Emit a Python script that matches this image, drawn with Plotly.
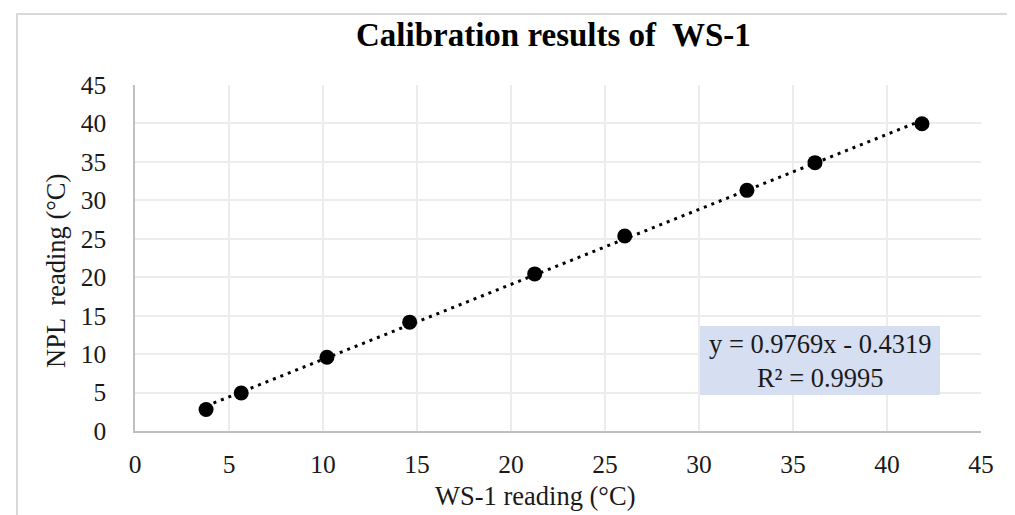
import numpy as np
import plotly.graph_objects as go

# Data
ws1_reading = [3.78, 5.65, 10.21, 14.61, 21.26, 26.05, 32.55, 36.17, 41.86]
npl_reading = [2.8, 4.95, 9.6, 14.16, 20.43, 25.36, 31.3, 34.9, 39.96]
tick_vals = [0, 5, 10, 15, 20, 25, 30, 35, 40, 45]
title_text = "<b>Calibration results of  WS-1</b>"
x_title = "WS-1 reading (°C)"
y_title = "NPL  reading (°C)"
eq_text = "y = 0.9769x - 0.4319<br>R² = 0.9995"

W, H = 1015, 515
L, R, T, B = 127, 42, 77, 92
pw, ph = W - L - R, H - T - B

def px(x):
    return (x - L) / pw

def py(y):
    return (H - B - y) / ph

coef = np.polyfit(ws1_reading, npl_reading, 1)
xt = np.array([min(ws1_reading), max(ws1_reading)])
yt = np.polyval(coef, xt)

FONT = "Liberation Serif, Times New Roman, serif"
TXT = "#1a1a1a"

fig = go.Figure()
fig.add_trace(go.Scatter(x=xt, y=yt, mode="lines",
                         line=dict(color="black", width=3, dash="3px,5px"),
                         hoverinfo="skip", showlegend=False))
fig.add_trace(go.Scatter(x=ws1_reading, y=npl_reading, mode="markers",
                         marker=dict(color="black", size=15),
                         showlegend=False))

axis_common = dict(range=[0, 45], tickvals=tick_vals, showgrid=True,
                   gridcolor="#ececec", gridwidth=1.5, zeroline=False,
                   showline=True, linecolor="#bfbfbf", linewidth=1.5,
                   ticks="", tickfont=dict(family=FONT, size=25.5, color=TXT),
                   fixedrange=True)

fig.update_layout(
    width=W, height=H,
    margin=dict(l=L, r=R, t=T, b=B),
    paper_bgcolor="white", plot_bgcolor="white",
    font=dict(family=FONT, color=TXT),
    xaxis=dict(**axis_common, ticklabelstandoff=10),
    yaxis=dict(**axis_common, ticklabelstandoff=22),
    shapes=[
        dict(type="rect", xref="paper", yref="paper",
             x0=px(9), x1=px(W + 20), y0=py(H + 20), y1=py(6),
             line=dict(color="#d9d9d9", width=2), fillcolor="rgba(0,0,0,0)",
             layer="below"),
        dict(type="rect", xref="paper", yref="paper",
             x0=px(692), x1=px(932), y0=py(387), y1=py(318),
             line=dict(width=0), fillcolor="#d6def2", layer="above"),
    ],
    annotations=[
        dict(text=title_text, xref="paper", yref="paper", x=px(545), y=py(27),
             showarrow=False, xanchor="center", yanchor="middle",
             font=dict(family=FONT, size=33, color="black")),
        dict(text=x_title, xref="paper", yref="paper", x=px(527), y=py(488),
             showarrow=False, xanchor="center", yanchor="middle",
             font=dict(family=FONT, size=26.5, color=TXT)),
        dict(text=y_title, xref="paper", yref="paper", x=px(48), y=py(263),
             showarrow=False, xanchor="center", yanchor="middle", textangle=-90,
             font=dict(family=FONT, size=26.5, color=TXT)),
        dict(text=eq_text, xref="paper", yref="paper", x=px(812), y=py(353),
             showarrow=False, xanchor="center", yanchor="middle", align="center",
             font=dict(family=FONT, size=26.5, color=TXT)),
    ],
)

fig.write_html("out.html")
